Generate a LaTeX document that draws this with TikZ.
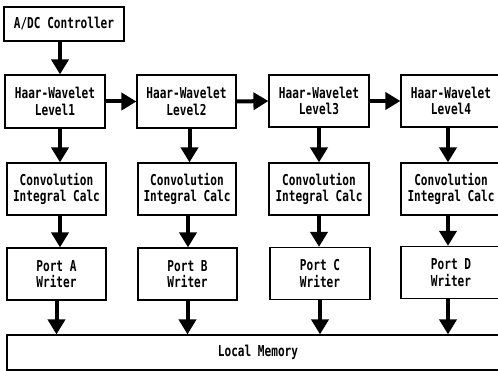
\documentclass[tikz,border=0pt]{standalone}
\usepackage{fontspec}
\usetikzlibrary{arrows.meta}
\newfontfamily\blockfont[FakeStretch=0.74]{DejaVu Sans Mono}

\begin{document}
\begin{tikzpicture}[x=1pt,y=-1pt,
    block/.style={draw, line width=1.2pt, align=center, inner sep=0pt,
      font=\blockfont\bfseries\fontsize{15}{16.5}\selectfont,
      minimum width=100pt, minimum height=52pt},
    bigarrow/.style={line width=4pt, -{Triangle[width=17pt,length=15pt]}}]
  \useasboundingbox (0,0) rectangle (498,371);

  \node[block, minimum width=120pt, minimum height=34pt] (adc) at (64,24) {A/DC Controller};

  \node[block, minimum height=53pt] (lev1) at (55,101.5) {Haar-Wavelet\\Level1};
  \node[block, minimum height=53pt, minimum width=99pt] (lev2) at (186.5,101.5) {Haar-Wavelet\\Level2};
  \node[block] (lev3) at (319,101) {Haar-Wavelet\\Level3};
  \node[block] (lev4) at (451,101) {Haar-Wavelet\\Level4};

  \node[block, minimum width=99pt] (conv1) at (56.5,189) {Convolution\\Integral Calc};
  \node[block, minimum width=98pt] (conv2) at (187,189) {Convolution\\Integral Calc};
  \node[block] (conv3) at (319,189) {Convolution\\Integral Calc};
  \node[block] (conv4) at (451,189) {Convolution\\Integral Calc};

  \node[block, minimum width=99pt] (portA) at (56.5,274) {Port A\\Writer};
  \node[block, minimum width=99pt] (portB) at (187.5,274) {Port B\\Writer};
  \node[block] (portC) at (320,273.5) {Port C\\Writer};
  \node[block] (portD) at (451,272.5) {Port D\\Writer};

  \node[block, minimum width=502pt, minimum height=35pt] (mem) at (258,352.5) {Local Memory};

  % data path
  \draw[bigarrow] (adc.south -| 60,0) -- (lev1.north -| 60,0);
  \draw[bigarrow] (lev1.east) -- (lev2.west);
  \draw[bigarrow] (lev2.east) -- (lev3.west);
  \draw[bigarrow] (lev3.east) -- (lev4.west);

  \draw[bigarrow] ([xshift=5pt]lev1.south) -- ([xshift=5pt]lev1.south |- conv1.north);
  \draw[bigarrow] ([xshift=3pt]lev2.south) -- ([xshift=3pt]lev2.south |- conv2.north);
  \draw[bigarrow] (lev3.south) -- (lev3.south |- conv3.north);
  \draw[bigarrow] ([xshift=-3pt]lev4.south) -- ([xshift=-3pt]lev4.south |- conv4.north);

  \draw[bigarrow] ([xshift=3.5pt]conv1.south) -- ([xshift=3.5pt]conv1.south |- portA.north);
  \draw[bigarrow] ([xshift=1pt]conv2.south) -- ([xshift=1pt]conv2.south |- portB.north);
  \draw[bigarrow] (conv3.south) -- (conv3.south |- portC.north);
  \draw[bigarrow] ([xshift=-3pt]conv4.south) -- ([xshift=-3pt]conv4.south |- portD.north);

  \draw[bigarrow] (portA.south) -- (portA.south |- mem.north);
  \draw[bigarrow] (portB.south) -- (portB.south |- mem.north);
  \draw[bigarrow] (portC.south) -- (portC.south |- mem.north);
  \draw[bigarrow] ([xshift=-3pt]portD.south) -- ([xshift=-3pt]portD.south |- mem.north);
\end{tikzpicture}
\end{document}
